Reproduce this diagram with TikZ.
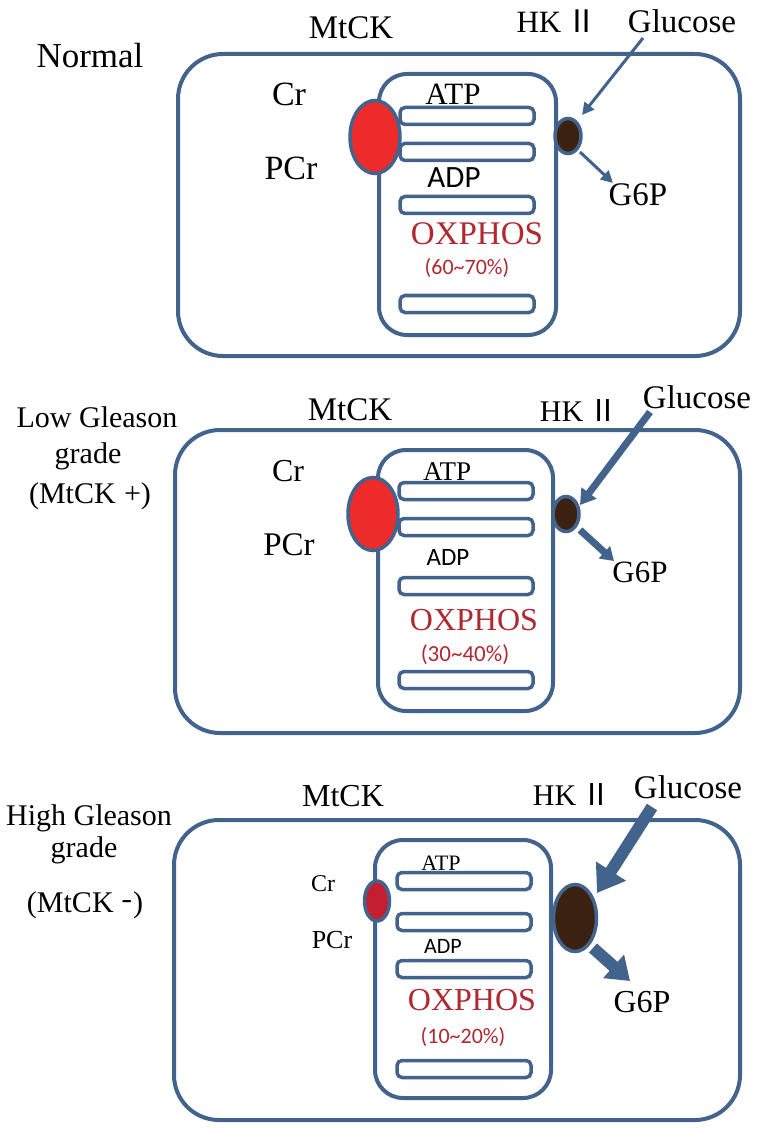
\documentclass[tikz,border=0pt]{standalone}
\usepackage{fontspec}
\setmainfont{Liberation Serif}
\newfontfamily\carl{Carlito}
\newfontfamily\cjkf{Noto Sans CJK SC}
\usetikzlibrary{arrows.meta,shapes.geometric}
\definecolor{cellblue}{RGB}{66,99,140}
\definecolor{mtred}{RGB}{238,43,43}
\definecolor{mtdark}{RGB}{196,30,48}
\definecolor{hkbrown}{RGB}{58,33,18}
\definecolor{oxred}{RGB}{176,40,48}
\newcommand{\fs}[1]{\fontsize{#1}{#1}\selectfont}
\newcommand{\hkii}{HK\,{\cjkf Ⅱ}}
\tikzset{
  cell/.style={draw=cellblue, line width=4, rounded corners=45},
  mito/.style={draw=cellblue, line width=4, rounded corners=28},
  crista/.style={draw=cellblue, line width=3.5, rectangle, rounded corners=5, minimum width=134, minimum height=17, inner sep=0},
  mtck/.style={draw=cellblue, line width=3.5, ellipse, fill=mtred, inner sep=0},
  hk/.style={draw=cellblue, line width=3.5, ellipse, fill=hkbrown, inner sep=0},
  lbl/.style={anchor=base, inner sep=0},
  oxt/.style={anchor=base, inner sep=0, text=oxred},
  arr/.style={draw=cellblue, line width=#1},
}
\begin{document}
\begin{tikzpicture}[x=1pt,y=-1pt]
\useasboundingbox (0,0) rectangle (758,1131);
\fill[white] (0,0) rectangle (758,1131);

% ================= Panel 1: Normal =================
\draw[cell] (178,54) rectangle (740,356);
\draw[mito] (379,74) rectangle (556,335);
\node[crista] (b11) at (467,116) {};
\node[crista] (b12) at (467,152) {};
\node[crista] (b13) at (467,205) {};
\node[crista] (b14) at (467,304) {};
\node[mtck, minimum width=50, minimum height=73] (mt1) at (375,137) {};
\node[hk, minimum width=26, minimum height=35] (hk1) at (568,136) {};
\node[lbl] (t1) at (90,68) {\fs{35}Normal};
\node[lbl] (mtl1) at (351,39) {\fs{33}MtCK};
\node[lbl] (hkl1) at (557,33) {\fs{31}\hkii};
\node[lbl] (glu1) at (682,33) {\fs{33}Glucose};
\node[lbl] (cr1) at (289,106) {\fs{34}Cr};
\node[lbl] (pcr1) at (291,180) {\fs{34}PCr};
\node[lbl] (atp1) at (453,105) {\fs{31}ATP};
\node[lbl] (adp1) at (454,188) {\carl\fs{31}ADP};
\node[oxt] (ox1) at (477,245) {\fs{33}OXPHOS};
\node[oxt] (pc1) at (467,275) {\carl\fs{22}(60\textasciitilde70\%)};
\node[lbl] (g6p1) at (638,206) {\fs{33}G6P};
\coordinate (ga1) at (643,38);
\coordinate (gb1) at (582,115);
\coordinate (ha1) at (580,152);
\coordinate (hb1) at (613,183);
\draw[arr=3, -{Triangle[length=12,width=12]}] (ga1) -- (gb1);
\draw[arr=3, -{Triangle[length=12,width=12]}] (ha1) -- (hb1);

% ================= Panel 2: Low Gleason =================
\draw[cell] (175,430) rectangle (740,733);
\draw[mito] (378,450) rectangle (553,711);
\node[crista] (b21) at (466,491) {};
\node[crista] (b22) at (466,527) {};
\node[crista] (b23) at (466,586) {};
\node[crista] (b24) at (466,680) {};
\node[mtck, minimum width=50, minimum height=73] (mt2) at (373,514) {};
\node[hk, minimum width=26, minimum height=35] (hk2) at (566,514) {};
\node[lbl] (t2a) at (97,427) {\fs{30}Low Gleason};
\node[lbl] (t2b) at (88,463) {\fs{30}grade};
\node[lbl] (t2c) at (90,503) {\fs{30}(MtCK\;+)};
\node[lbl] (mtl2) at (350,420) {\fs{33}MtCK};
\node[lbl] (hkl2) at (579,421) {\fs{30}\hkii};
\node[lbl] (glu2) at (697,408) {\fs{33}Glucose};
\node[lbl] (cr2) at (288,481) {\fs{32}Cr};
\node[lbl] (pcr2) at (289,555) {\fs{33}PCr};
\node[lbl] (atp2) at (447,480) {\fs{27}ATP};
\node[lbl] (adp2) at (448,565) {\carl\fs{25}ADP};
\node[oxt] (ox2) at (474,630) {\fs{32}OXPHOS};
\node[oxt] (pc2) at (465,661) {\carl\fs{23}(30\textasciitilde40\%)};
\node[lbl] (g6p2) at (640,582) {\fs{31}G6P};
\coordinate (ga2) at (650,412);
\coordinate (gb2) at (580,505);
\coordinate (ha2) at (580,530);
\coordinate (hb2) at (614,561);
\draw[arr=7, -{Triangle[length=15,width=18]}] (ga2) -- (gb2);
\draw[arr=7, -{Triangle[length=13,width=16]}] (ha2) -- (hb2);

% ================= Panel 3: High Gleason =================
\draw[cell] (174,820) rectangle (740,1120);
\draw[mito] (375,840) rectangle (551,1098);
\node[crista] (b31) at (464,881) {};
\node[crista] (b32) at (464,922) {};
\node[crista] (b33) at (464,969) {};
\node[crista] (b34) at (464,1069) {};
\node[mtck, fill=mtdark, minimum width=25, minimum height=40] (mt3) at (377,901) {};
\node[hk, minimum width=43, minimum height=67] (hk3) at (575,918) {};
\node[lbl] (t3a) at (89,825) {\fs{30}High Gleason};
\node[lbl] (t3b) at (84,857) {\fs{30}grade};
\node[lbl] (t3c) at (85,912) {\fs{30}(MtCK\;\raisebox{4pt}{\sffamily\bfseries -})};
\node[lbl] (mtl3) at (343,806) {\fs{32}MtCK};
\node[lbl] (hkl3) at (572,805) {\fs{30}\hkii};
\node[lbl] (glu3) at (688,798) {\fs{33}Glucose};
\node[lbl] (cr3) at (323,891) {\fs{24}Cr};
\node[lbl] (pcr3) at (332,948) {\fs{26}PCr};
\node[lbl] (atp3) at (441,870) {\fs{22}ATP};
\node[lbl] (adp3) at (443,953) {\carl\fs{22}ADP};
\node[oxt] (ox3) at (472,1010) {\fs{32}OXPHOS};
\node[oxt] (pc3) at (463,1043) {\carl\fs{22}(10\textasciitilde20\%)};
\node[lbl] (g6p3) at (642,1012) {\fs{32}G6P};
\coordinate (ga3) at (652,807);
\coordinate (gb3) at (597,893);
\coordinate (ha3) at (593,948);
\coordinate (hb3) at (630,981);
\draw[arr=12, -{Triangle[length=26,width=34]}] (ga3) -- (gb3);
\draw[arr=12, -{Triangle[length=22,width=30]}] (ha3) -- (hb3);
\end{tikzpicture}
\end{document}
